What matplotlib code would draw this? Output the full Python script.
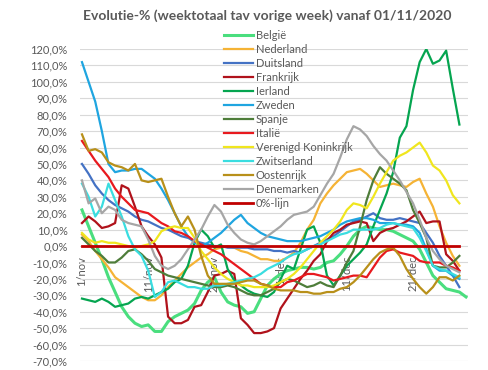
import matplotlib
matplotlib.use("Agg")
import matplotlib.pyplot as plt
import numpy as np

# days since 1 nov 2020
tick_days = [0, 10, 20, 30, 40, 50]
tick_labels = ["1/nov", "11/nov", "21/nov", "1/dec", "11/dec", "21/dec"]

belgie = [22, 12, 2, -8, -19, -28, -37, -43, -47, -49, -48, -52, -52, -46, -43, -41, -39, -35, -27, -22,
          -19, -28, -34, -36, -37, -41, -40, -32, -24, -20, -17, -15, -14, -13, -13, -14, -13, -10, -9, -5,
          0, 6, 10, 12, 11, 10, 10, 9, 7, 5, 3, -2, -10, -18, -22, -26, -27, -28, -31]
nederland = [7, 3, -3, -8, -13, -19, -22, -25, -28, -31, -33, -33, -30, -25, -21, -17, -13, -10, -7, -5,
             -2, -1, 0, -1, -3, -4, -6, -8, -8, -9, -9, -7, -4, 2, 10, 16, 26, 32, 37, 41,
             45, 46, 47, 44, 40, 36, 37, 38, 37, 36, 39, 41, 32, 24, 12, 2, -6, -12]
duitsland = [50, 44, 37, 32, 28, 25, 23, 21, 18, 16, 15, 13, 11, 10, 8, 6, 5, 3, 2, 1,
             0, 0, -1, -1, -1, -1, -2, -2, -2, -3, -3, -4, -3, -4, -2, 0, 2, 4, 6, 9,
             12, 15, 16, 18, 20, 17, 16, 16, 17, 16, 15, 14, 8, 2, -6, -12, -18, -25]
frankrijk = [14, 18, 15, 11, 12, 14, 37, 35, 24, 12, 6, 1, -7, -43, -47, -47, -45, -37, -36, -28,
             -18, -17, -15, -17, -44, -48, -53, -53, -52, -50, -38, -32, -26, -20, -15, -9, -5, 3, 8, 10,
             13, 14, 15, 14, 3, 8, 10, 11, 13, 15, 18, 21, 14, 15, 15, -5, -9, -15]
ierland = [-32, -33, -34, -32, -34, -37, -36, -35, -32, -31, -32, -30, -28, -26, -22, -20, -12, 2, 10, 6,
           -1, 1, -14, -21, -24, -27, -29, -30, -31, -28, -20, -12, -14, -2, 10, 12, 2, -18, -24, -18,
           -12, -8, -4, 1, 12, 22, 32, 45, 66, 73, 95, 112, 120, 111, 113, 119, 96, 74]
zweden = [112, 100, 88, 70, 50, 45, 46, 46, 47, 47, 44, 41, 35, 28, 20, 12, 6, 2, 0, 2,
          5, 8, 12, 16, 19, 14, 11, 8, 6, 5, 4, 3, 3, 3, 4, 5, 6, 8, 10, 13,
          15, 16, 17, 17, 16, 14, 14, 14, 13, 13, 12, 8, -2, -12, -15, -15, -18, -20]
spanje = [5, 1, -3, -6, -10, -10, -7, -3, -2, -5, -9, -14, -16, -18, -19, -20, -21, -22, -23, -24,
          -25, -25, -24, -25, -27, -29, -30, -30, -28, -26, -22, -20, -21, -23, -25, -24, -22, -24, -25, -18,
          -10, -3, 12, 28, 40, 48, 44, 41, 38, 34, 22, 14, 5, -12, -13, -13, -10, -6]
italie = [64, 58, 52, 47, 42, 35, 30, 26, 22, 21, 20, 17, 14, 12, 9, 8, 6, 3, 1, -1,
          -3, -5, -8, -11, -14, -17, -20, -23, -24, -25, -25, -22, -21, -19, -17, -17, -18, -19, -21, -20,
          -19, -18, -18, -19, -13, -7, -3, -2, -4, -5, -6, -9, -10, -10, -10, -12, -13, -15]
vk = [8, 4, 2, 3, 2, 2, 1, 0, -1, 0, 1, 3, 9, 11, 12, 11, 11, 5, -3, -8,
      -13, -17, -20, -22, -24, -24, -25, -25, -25, -24, -22, -20, -17, -13, -8, -3, 2, 6, 10, 15,
      22, 26, 25, 23, 30, 38, 45, 52, 55, 57, 60, 63, 57, 49, 46, 40, 31, 26]
zwitserland = [38, 30, 18, 24, 38, 28, 18, 6, -2, -6, -15, -31, -28, -22, -21, -23, -25, -25, -26, -26,
               -24, -24, -23, -22, -21, -20, -19, -17, -14, -12, -10, -7, -5, -4, -2, 0, 1, 3, 5, 7,
               8, 10, 10, 10, 10, 11, 13, 14, 13, 12, 11, 5, -3, -12, -14, -15, -17, -19]
oostenrijk = [68, 58, 59, 57, 51, 49, 48, 46, 50, 40, 39, 40, 41, 30, 20, 12, 18, 10, -6, -18,
              -23, -23, -23, -23, -22, -21, -21, -23, -24, -26, -27, -27, -27, -28, -28, -29, -29, -28, -28, -26,
              -25, -22, -18, -13, -8, -4, -2, -1, -6, -14, -20, -25, -29, -25, -19, -19, -21, -18]
denemarken = [40, 26, 29, 20, 24, 22, 16, 14, 13, 12, 4, -6, -12, -14, -12, -8, -2, 4, 10, 18,
              25, 21, 13, 8, 4, 2, 1, 3, 6, 9, 12, 16, 19, 20, 21, 24, 31, 38, 44, 54,
              65, 73, 71, 67, 61, 56, 52, 46, 40, 33, 26, 16, 5, -3, -8, -12, -14, -16]
nul_lijn = [0] * 58

series = [
    ("België", belgie, "#4ADE7E", 2.2),
    ("Nederland", nederland, "#F5B335", 1.6),
    ("Duitsland", duitsland, "#4472C4", 1.6),
    ("Frankrijk", frankrijk, "#B0121B", 1.6),
    ("Ierland", ierland, "#05A550", 1.6),
    ("Zweden", zweden, "#1FA5E0", 1.6),
    ("Spanje", spanje, "#4E7D3A", 1.6),
    ("Italië", italie, "#E8191E", 1.6),
    ("Verenigd Koninkrijk", vk, "#F0E61E", 1.6),
    ("Zwitserland", zwitserland, "#3ADDE0", 1.6),
    ("Oostenrijk", oostenrijk, "#B8901A", 1.6),
    ("Denemarken", denemarken, "#A6A6A6", 1.6),
    ("0%-lijn", nul_lijn, "#C00000", 2.0),
]

plt.rcParams['font.family'] = ['Lato', 'DejaVu Sans']

fig = plt.figure(figsize=(4.89, 3.70), dpi=100)
ax = fig.add_axes([80 / 489, 1 - 361 / 370, 388 / 489, 312 / 370])

# lines on top of the date labels, like in the excel chart
for name, vals, col, lw in series:
    ax.plot(np.arange(len(vals)), vals, color=col, lw=lw, label=name, zorder=3)

ax.set_xlim(-0.3, 58.3)
ax.set_ylim(-70, 120)
ax.set_yticks(np.arange(-70, 121, 10))
ax.set_yticklabels([("%.1f%%" % v).replace(".", ",") for v in np.arange(-70, 121, 10)])
ax.grid(axis='y', color='#D9D9D9', lw=0.8)
ax.set_axisbelow(True)
for s in ax.spines.values():
    s.set_visible(False)
ax.spines['bottom'].set_position(('data', 0))
ax.set_xticks(tick_days)
ax.set_xticklabels(tick_labels)
ax.tick_params(axis='x', length=0, pad=7, labelrotation=90, labelsize=8, colors='#595959')
ax.tick_params(axis='y', length=0, pad=9, labelsize=8, colors='#595959')

fig.text(0.546, 0.957, "Evolutie-% (weektotaal tav vorige week) vanaf 01/11/2020",
         ha='center', va='center', fontsize=10, fontweight='bold', color='#595959')

leg = ax.legend(loc='upper left', bbox_to_anchor=(216 / 489, 1 - 22 / 370),
                bbox_transform=fig.transFigure, frameon=False, fontsize=8,
                handlelength=2.6, handletextpad=0.3, labelspacing=0.27, borderpad=0.2)
leg.set_zorder(5)
for t in leg.get_texts():
    t.set_color('#595959')

fig.savefig("out.png", dpi=100)
